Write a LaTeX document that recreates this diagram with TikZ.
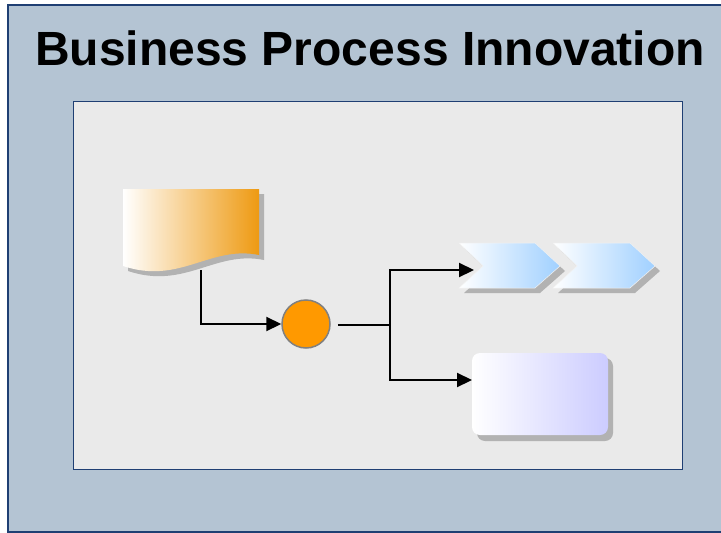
\documentclass[tikz,border=0pt]{standalone}
\usepackage{fontspec}
\setmainfont{Liberation Sans}
\usetikzlibrary{arrows.meta,calc}
\definecolor{outerfill}{HTML}{B4C4D3}
\definecolor{navy}{HTML}{1F3F73}
\definecolor{panel}{HTML}{EAEAEA}
\definecolor{shadowgray}{HTML}{B2B2B2}
\definecolor{docorange}{HTML}{EE9A12}
\definecolor{chevblue}{HTML}{A0D0FF}
\definecolor{boxlilac}{HTML}{CCCCFF}
\definecolor{circorange}{HTML}{FF9900}
\tikzset{
  conn/.style={line width=2.2pt, black},
  arr/.style={conn, -{Triangle[length=15pt,width=14pt]}},
  shadowfill/.style={fill=shadowgray, draw=none},
}
\begin{document}
\begin{tikzpicture}[x=1pt,y=-1pt]
\useasboundingbox (0,0) rectangle (721,533);
\clip (0,0) rectangle (721,533);
% outer frame
\draw[navy, line width=2pt, fill=outerfill] (8,5) rectangle (740,532);
% title
\node[anchor=base, font=\bfseries\fontsize{48}{52}\selectfont, inner sep=0pt] (title) at (370,65) {Business Process Innovation};
% inner panel
\draw[navy, line width=1pt, fill=panel] (73,101) rectangle (682,469);

% document shape
\fill[shadowfill] (128,194) -- (264,194) -- (264,260) .. controls (215,250) and (185,290) .. (128,271) -- cycle;
\shade[left color=white, right color=docorange] (123,189) -- (259,189) -- (259,255) .. controls (210,245) and (180,285) .. (123,266) -- cycle;
\coordinate (docbot) at (201,270);

% circle
\node[circle, fill=circorange, draw=gray, line width=1.5pt, minimum size=48pt, inner sep=0pt] (circ) at (306,324) {};

% chevrons
\fill[shadowfill] (464,248) -- (540,248) -- (565,271) -- (540,293) -- (464,293) -- (488,271) -- cycle;
\fill[shadowfill] (558,248) -- (635,248) -- (660,271) -- (635,293) -- (558,293) -- (582,271) -- cycle;
\shade[left color=white, right color=chevblue, draw=white!90!gray, line width=0.5pt] (459,243) -- (535,243) -- (560,266) -- (535,288) -- (459,288) -- (483,266) -- cycle;
\shade[left color=white, right color=chevblue, draw=white!90!gray, line width=0.5pt] (553,243) -- (630,243) -- (655,266) -- (630,288) -- (553,288) -- (577,266) -- cycle;
\coordinate (chev) at (474,270);

% rounded box
\fill[shadowfill, rounded corners=8pt] (477,358) rectangle (613,441);
\shade[left color=white, right color=boxlilac, rounded corners=8pt] (472,353) rectangle (608,435);
\coordinate (box) at (472,380);

% connectors
\coordinate (junc) at (390,325);
\draw[arr] (docbot) |- (circ.west);
\draw[conn] ($(circ.east)+(7,1)$) -- (junc);
\draw[arr] (junc) |- (chev);
\draw[arr] (junc) |- (box);
\end{tikzpicture}
\end{document}
